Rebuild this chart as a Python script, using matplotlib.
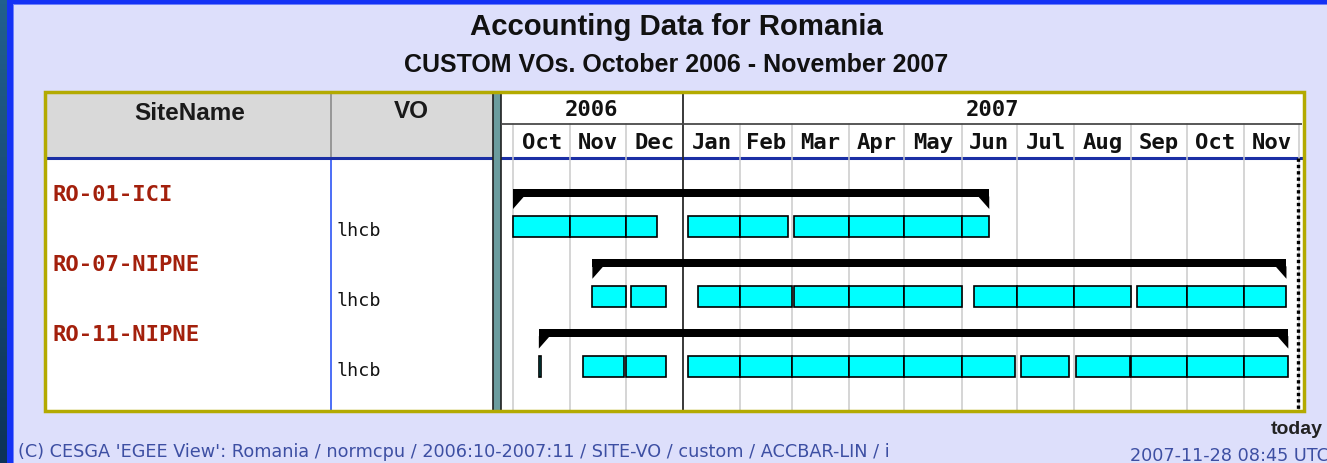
import matplotlib
matplotlib.use("Agg")
import matplotlib.pyplot as plt
import matplotlib.dates as mdates
from matplotlib.patches import Rectangle, Polygon
from matplotlib.colors import LinearSegmentedColormap
import numpy as np
import pandas as pd

# ---------------- data ----------------
title = "Accounting Data for Romania"
subtitle = "CUSTOM VOs. October 2006 - November 2007"
col_headers = ["SiteName", "VO"]
site_names = ["RO-01-ICI", "RO-07-NIPNE", "RO-11-NIPNE"]
vo_names = ["lhcb", "lhcb", "lhcb"]
site_start = ["2006-10-01", "2006-11-13", "2006-10-15"]
site_end = ["2007-06-16", "2007-11-24", "2007-11-25"]

ici_lhcb_periods = [
    ("2006-10-01", "2006-11-01"), ("2006-11-01", "2006-12-01"), ("2006-12-01", "2006-12-18"),
    ("2007-01-04", "2007-02-01"), ("2007-02-01", "2007-02-27"),
    ("2007-03-02", "2007-04-01"), ("2007-04-01", "2007-05-01"), ("2007-05-01", "2007-06-01"),
    ("2007-06-01", "2007-06-16"),
]
nipne07_lhcb_periods = [
    ("2006-11-13", "2006-12-01"), ("2006-12-04", "2006-12-23"),
    ("2007-01-09", "2007-02-01"), ("2007-02-01", "2007-03-01"), ("2007-03-02", "2007-04-01"),
    ("2007-04-01", "2007-05-01"), ("2007-05-01", "2007-06-01"),
    ("2007-06-08", "2007-07-01"), ("2007-07-01", "2007-08-01"), ("2007-08-01", "2007-09-01"),
    ("2007-09-04", "2007-10-01"), ("2007-10-01", "2007-11-01"), ("2007-11-01", "2007-11-24"),
]
nipne11_lhcb_periods = [
    ("2006-10-15", "2006-10-16"),
    ("2006-11-08", "2006-11-30"), ("2006-12-01", "2006-12-23"),
    ("2007-01-04", "2007-02-01"), ("2007-02-01", "2007-03-01"), ("2007-03-01", "2007-04-01"),
    ("2007-04-01", "2007-05-01"), ("2007-05-01", "2007-06-01"), ("2007-06-01", "2007-06-30"),
    ("2007-07-03", "2007-07-29"), ("2007-08-02", "2007-08-31"), ("2007-09-01", "2007-10-01"),
    ("2007-10-01", "2007-11-01"), ("2007-11-01", "2007-11-25"),
]
vo_periods = [ici_lhcb_periods, nipne07_lhcb_periods, nipne11_lhcb_periods]

month_labels = ["Oct", "Nov", "Dec", "Jan", "Feb", "Mar", "Apr", "May", "Jun",
                "Jul", "Aug", "Sep", "Oct", "Nov"]
year_labels = ["2006", "2007"]
period_start = "2006-10-01"
period_end = "2007-12-01"
today_marker = "2007-11-30"
footer_left = "(C) CESGA 'EGEE View': Romania / normcpu / 2006:10-2007:11 / SITE-VO / custom / ACCBAR-LIN / i"
footer_right = "2007-11-28 08:45 UTC"
today_label = "today"

# ---------------- style ----------------
W, H = 1327, 464
BG = "#DDDFFB"
YEL = "#B3AA00"
CYAN = "#00FFFF"
RED = "#A3200C"
FOOT = "#3D4FA3"
MONO = "DejaVu Sans Mono"
SANS = "Liberation Sans"

fig = plt.figure(figsize=(W / 100, H / 100), dpi=100)
fig.patch.set_facecolor(BG)

cv = fig.add_axes([0, 0, 1, 1])
cv.set_xlim(0, W)
cv.set_ylim(H, 0)
cv.axis("off")

# outer frame
grad = np.linspace(0, 1, 100).reshape(-1, 1)
cmap = LinearSegmentedColormap.from_list("g", ["#22608E", "#0D3358"])
cv.imshow(grad, extent=(0, 7, H, 0), cmap=cmap, aspect="auto", zorder=1)
cv.add_patch(Rectangle((7, 0), 5.5, H, color="#1432F5", lw=0, zorder=1))
cv.add_patch(Rectangle((7, 0), W, 5, color="#1432F5", lw=0, zorder=1))
cv.add_patch(Rectangle((12.5, 5), 1, H, color="#6F80FA", lw=0, zorder=1))
cv.add_patch(Rectangle((12.5, 5), W, 1, color="#6F80FA", lw=0, zorder=1))

# table geometry
TL, TR, TT, TB = 45, 1303.5, 92.5, 411.5
SEP0, SEP1 = 492.5, 501
COLDIV = 330.5
HDR_B = 158.5
cv.add_patch(Rectangle((TL, TT), TR - TL, TB - TT, facecolor="white", lw=0, zorder=2))
cv.add_patch(Rectangle((TL, TT), SEP0 - TL, HDR_B - TT, facecolor="#D9D9D9", lw=0, zorder=2))
cv.plot([COLDIV, COLDIV], [TT, HDR_B], color="#8C8C8C", lw=1.2, zorder=3)
cv.plot([COLDIV, COLDIV], [HDR_B, TB], color="#2E55F5", lw=1.2, zorder=3)
cv.plot([TL, TR], [HDR_B, HDR_B], color="#1B2FA5", lw=2.2, zorder=3, solid_capstyle="butt")
cv.add_patch(Rectangle((SEP0, TT), SEP1 - SEP0, TB - TT, facecolor="#6B9C9E",
                       edgecolor="#202020", lw=1.2, zorder=4))

cv.text((TL + COLDIV) / 2 + 2, 113, col_headers[0], ha="center", va="center",
        fontsize=17.5, fontweight="bold", family=SANS, color="#1A1A1A", zorder=5)
cv.text((COLDIV + SEP0) / 2, 111, col_headers[1], ha="center", va="center",
        fontsize=17.5, fontweight="bold", family=SANS, color="#1A1A1A", zorder=5)

# titles
cv.text(676.5, 27, title, ha="center", va="center", fontsize=21.2, fontweight="bold",
        family=SANS, color="#111111")
cv.text(676, 65.5, subtitle, ha="center", va="center", fontsize=18, fontweight="bold",
        family=SANS, color="#111111")

# row labels
PITCH = 69.8
for i, (s, v) in enumerate(zip(site_names, vo_names)):
    cv.text(52, 195.5 + PITCH * i, s, ha="left", va="center", fontsize=16,
            fontweight="bold", family=MONO, color=RED, zorder=5)
    cv.text(337, 231 + PITCH * i, v, ha="left", va="center", fontsize=13.2,
            family=MONO, color="#111111", zorder=5)

# footer
cv.text(18, 452.5, footer_left, ha="left", va="center", fontsize=12.7, family="DejaVu Sans",
        color=FOOT)
cv.text(1130, 456.5, footer_right, ha="left", va="center", fontsize=12.7, family="DejaVu Sans",
        color=FOOT, clip_on=False)

# ---------------- timeline axes ----------------
d0 = mdates.date2num(pd.Timestamp(period_start))
px_per_day = (1244 - 513) / (mdates.date2num(pd.Timestamp("2007-11-01")) - d0)
x_left = d0 - (513 - SEP1) / px_per_day
x_right = x_left + (TR - 1.5 - SEP1) / px_per_day

tl = fig.add_axes([SEP1 / W, 1 - TB / H, (TR - 1.5 - SEP1) / W, (TB - TT) / H])
tl.set_xlim(x_left, x_right)
tl.set_ylim(TB, TT)
tl.axis("off")
tl.patch.set_alpha(0)

YEAR_B = 125
month_starts = pd.date_range(period_start, period_end, freq="MS")
mnum = mdates.date2num(month_starts)
jan = [m for m, t in zip(mnum, month_starts) if t.month == 1]
for m, t in zip(mnum, month_starts):
    if t.month == 1:
        tl.plot([m, m], [TT, TB], color="#2A2A2A", lw=1.3, zorder=2)
    else:
        tl.plot([m, m], [YEAR_B, TB], color="#CACACA", lw=1.1, zorder=1)
tl.plot([x_left, x_right], [YEAR_B, YEAR_B], color="#4A4A4A", lw=1.3, zorder=2)

for lab, a, b in zip(month_labels, mnum[:-1], mnum[1:]):
    tl.text((a + b) / 2, 142.5, lab, ha="center", va="center", fontsize=16,
            fontweight="bold", family=MONO, color="#111111")
year_edges = [x_left] + jan + [x_right]
for lab, a, b in zip(year_labels, year_edges[:-1], year_edges[1:]):
    tl.text((a + b) / 2, 109.5, lab, ha="center", va="center", fontsize=16,
            fontweight="bold", family=MONO, color="#111111")

# bars
tri_w = 11 / px_per_day
for i in range(len(site_names)):
    s = mdates.date2num(pd.Timestamp(site_start[i]))
    e = mdates.date2num(pd.Timestamp(site_end[i]))
    top = 190 + PITCH * i
    tl.barh(top + 4, e - s, left=s, height=8, color="black", lw=0, zorder=4)
    tl.add_patch(Polygon([[s, top + 7.5], [s, top + 20], [s + tri_w, top + 7.5]],
                         closed=True, color="black", lw=0, zorder=4))
    tl.add_patch(Polygon([[e, top + 7.5], [e, top + 20], [e - tri_w, top + 7.5]],
                         closed=True, color="black", lw=0, zorder=4))
    ctop = 217 + PITCH * i
    for (ps, pe) in vo_periods[i]:
        a = mdates.date2num(pd.Timestamp(ps))
        b = mdates.date2num(pd.Timestamp(pe))
        tl.barh(ctop + 10.5, b - a, left=a, height=21, facecolor=CYAN,
                edgecolor="black", lw=1.2, zorder=5)

# today line
tnum = mdates.date2num(pd.Timestamp(today_marker))
tl.plot([tnum, tnum], [HDR_B, TB], color="black", lw=2.4, linestyle=(0, (1.0, 0.9)),
        zorder=6)

# outer yellow border on top
fig.add_artist(Rectangle((TL, TT), TR - TL, TB - TT, fill=False, edgecolor=YEL, lw=2.5,
                         transform=cv.transData, zorder=10))
fig.text(1297 / W, 1 - 430 / H, today_label, ha="center", va="center", fontsize=14,
         fontweight="bold", family=SANS, color="#222222", zorder=11)

fig.savefig("out.png", dpi=100, facecolor=BG)
